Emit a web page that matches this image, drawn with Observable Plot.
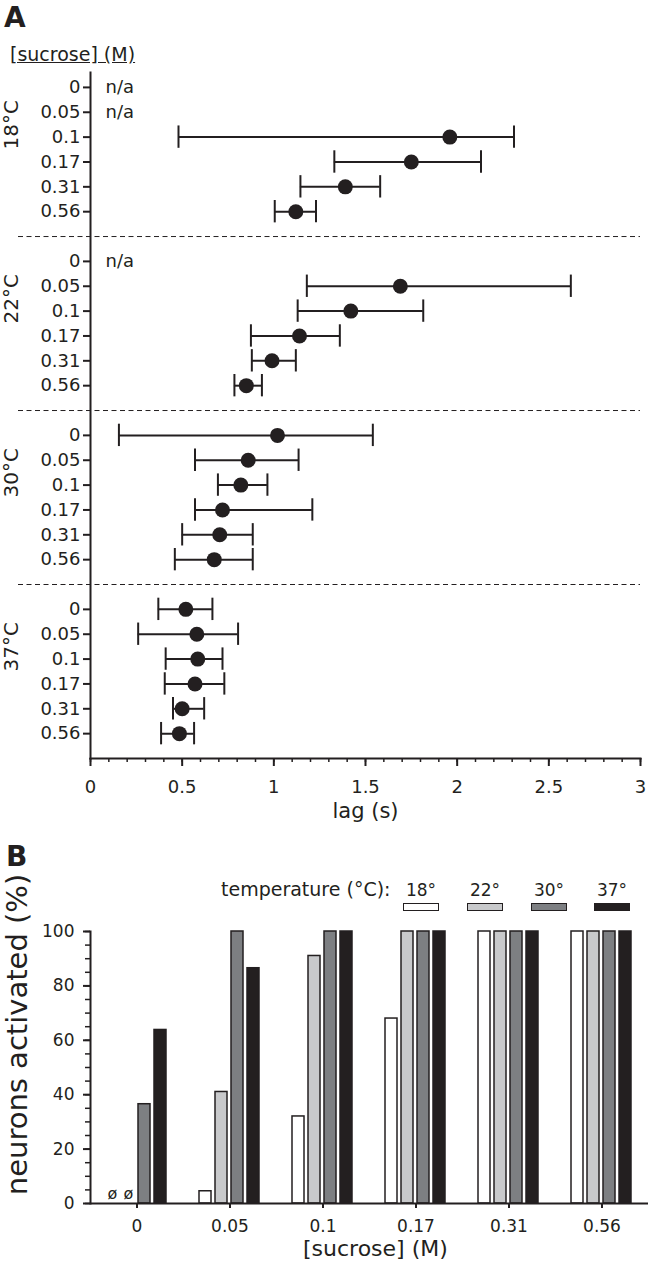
<!DOCTYPE html>
<html><head><meta charset="utf-8">
<script src="https://cdn.jsdelivr.net/npm/d3@7"></script>
<script src="https://cdn.jsdelivr.net/npm/@observablehq/plot@0.6"></script>
<style>
body{margin:0;background:#fff;font-family:"DejaVu Sans",sans-serif;color:#231f20}
#page{position:relative;width:649px;height:1269px;overflow:hidden;background:#fff}
.abs{position:absolute;white-space:nowrap;line-height:1}
svg{position:absolute;left:0}
</style></head><body><div id="page"></div>
<script>
const ink = "#231f20";
// categories
const sucrose = ["0","0.05","0.1","0.17","0.31","0.56"];
const temps = ["18","22","30","37"];
const tempLabels = ["18°C","22°C","30°C","37°C"];
const legendLabels = ["18°","22°","30°","37°"];
const barColors = ["#ffffff","#c8c9cb","#7d7f82","#231f20"];

// Panel A: lag (s), mean and error-bar ends; null = n/a
const lag18Mean = [null, null, 1.96, 1.75, 1.39, 1.12];
const lag18Lo   = [null, null, 0.48, 1.33, 1.145, 1.005];
const lag18Hi   = [null, null, 2.31, 2.13, 1.58, 1.23];
const lag22Mean = [null, 1.69, 1.42, 1.14, 0.99, 0.85];
const lag22Lo   = [null, 1.18, 1.13, 0.875, 0.88, 0.785];
const lag22Hi   = [null, 2.62, 1.815, 1.36, 1.12, 0.935];
const lag30Mean = [1.02, 0.86, 0.82, 0.72, 0.705, 0.675];
const lag30Lo   = [0.155, 0.57, 0.695, 0.57, 0.5, 0.46];
const lag30Hi   = [1.54, 1.135, 0.965, 1.21, 0.885, 0.885];
const lag37Mean = [0.52, 0.58, 0.585, 0.57, 0.50, 0.485];
const lag37Lo   = [0.37, 0.26, 0.41, 0.405, 0.45, 0.385];
const lag37Hi   = [0.665, 0.805, 0.72, 0.73, 0.62, 0.565];
const xMajorTicks = [0, 0.5, 1, 1.5, 2, 2.5, 3];
const xMinorTicks = d3.range(0, 31).map(i => i / 10);

// Panel B: neurons activated (%); null = none (ø)
const pct18 = [null, 4.5, 32, 68, 100, 100];
const pct22 = [null, 41, 91, 100, 100, 100];
const pct30 = [36.5, 100, 100, 100, 100, 100];
const pct37 = [63.8, 86.5, 100, 100, 100, 100];
const yMajorTicks = [0, 20, 40, 60, 80, 100];
const yMinorTicks = d3.range(0, 21).map(i => i * 5);

const lagTables = [[lag18Mean, lag18Lo, lag18Hi],[lag22Mean, lag22Lo, lag22Hi],[lag30Mean, lag30Lo, lag30Hi],[lag37Mean, lag37Lo, lag37Hi]];
const pctTables = [pct18, pct22, pct30, pct37];

const rowsA = [];
temps.forEach((t, g) => sucrose.forEach((c, r) => {
  const [m, lo, hi] = lagTables[g];
  rowsA.push({temp: t, conc: c, pos: g * 7 + r + 1, mean: m[r], lo: lo[r], hi: hi[r]});
}));
const measured = rowsA.filter(d => d.mean != null);
const missing = rowsA.filter(d => d.mean == null);
const dividers = temps.slice(1).map((t, i) => (i + 1) * 7);
const groupCenters = temps.map((t, g) => ({label: tempLabels[g], pos: g * 7 + 3.5}));
const concByPos = new Map(rowsA.map(d => [d.pos, d.conc]));

const page = document.getElementById("page");
function addDiv(text, css, cls = "abs") {
  const d = document.createElement("div");
  d.className = cls; d.textContent = text; d.style.cssText = css; page.appendChild(d); return d;
}

const style = {fontFamily: "DejaVu Sans", color: ink, background: "transparent", overflow: "visible"};

const plotA = Plot.plot({
  width: 649, height: 830, marginLeft: 90, marginRight: 9, marginTop: 72, marginBottom: 72,
  style,
  x: {domain: [0, 3]},
  y: {domain: [0.4, 28], reverse: true},
  marks: [
    Plot.ruleY(dividers, {stroke: ink, strokeWidth: 1, strokeDasharray: "5,3.5", insetLeft: -72}),
    Plot.ruleY(measured, {y: "pos", x1: "lo", x2: "hi", stroke: ink, strokeWidth: 2}),
    Plot.ruleX(measured, {x: "lo", y1: d => d.pos - 0.45, y2: d => d.pos + 0.45, stroke: ink, strokeWidth: 2}),
    Plot.ruleX(measured, {x: "hi", y1: d => d.pos - 0.45, y2: d => d.pos + 0.45, stroke: ink, strokeWidth: 2}),
    Plot.dot(measured, {x: "mean", y: "pos", r: 7.5, fill: ink}),
    Plot.text(missing, {x: 0, y: "pos", text: () => "n/a", textAnchor: "start", dx: 15, fontSize: 18, fill: ink}),
    Plot.text(groupCenters, {y: "pos", frameAnchor: "left", dx: -79, rotate: -90, text: "label", fontSize: 20, fill: ink}),
    Plot.axisY({ticks: rowsA.map(d => d.pos), tickFormat: p => concByPos.get(p), tickSize: 7, tickPadding: 3, fontSize: 18, label: null, strokeWidth: 2}),
    Plot.axisX({ticks: xMajorTicks, tickFormat: d => String(d), tickSize: 8, tickPadding: 14, fontSize: 18, label: null, strokeWidth: 2}),
    Plot.axisX({ticks: xMinorTicks, tickFormat: () => "", tickSize: 4, label: null, strokeWidth: 1.5}),
    Plot.frame({anchor: "left", stroke: ink, strokeWidth: 2}),
    Plot.frame({anchor: "bottom", stroke: ink, strokeWidth: 2}),
    Plot.text(["lag (s)"], {frameAnchor: "bottom", dy: 45, lineAnchor: "top", fontSize: 21, fill: ink})
  ]
});
plotA.style.top = "0px";
page.appendChild(plotA);

const barsB = [];
sucrose.forEach((c, i) => temps.forEach((t, j) => barsB.push({conc: c, temp: t, value: pctTables[j][i]})));

const plotB = Plot.plot({
  width: 649, height: 434, marginLeft: 88, marginRight: 0, marginTop: 96, marginBottom: 66,
  style,
  fx: {domain: sucrose, padding: 0, label: null},
  x: {domain: temps, paddingInner: 0.235, paddingOuter: 0.868, axis: null},
  y: {domain: [0, 100]},
  color: {domain: temps, range: barColors},
  marks: [
    Plot.barY(barsB.filter(d => d.value != null), {fx: "conc", x: "temp", y: "value", fill: "temp", stroke: ink, strokeWidth: 1.5}),
    Plot.text(barsB.filter(d => d.value == null), {fx: "conc", x: "temp", y: 0, text: () => "ø", dy: -10, fontSize: 16, fill: ink}),
    Plot.ruleY([0], {stroke: ink, strokeWidth: 2}),
    Plot.ruleX(sucrose, {fx: d => d, x: null, y1: 0, y2: 0, insetBottom: -5, stroke: ink, strokeWidth: 2}),
    Plot.frame({anchor: "left", facetAnchor: "left", stroke: ink, strokeWidth: 2}),
    Plot.axisY({ticks: yMajorTicks, tickSize: 7, tickPadding: 9, fontSize: 17, label: null, strokeWidth: 2}),
    Plot.axisY({ticks: yMinorTicks, tickFormat: () => "", tickSize: 5, label: null, strokeWidth: 1.5}),
    Plot.axisFx({anchor: "bottom", tickSize: 5, tickPadding: 11, fontSize: 17, label: null, strokeWidth: 2})
  ]
});
plotB.style.top = "835px";
page.appendChild(plotB);

// panel letters and headers
addDiv("A", "left:4px;top:4px;font-size:28px;font-weight:bold;");
addDiv("[sucrose] (M)", "left:10px;top:45px;font-size:19px;text-decoration:underline;");
addDiv("B", "left:6px;top:843px;font-size:28px;font-weight:bold;");
addDiv("[sucrose] (M)", "left:303px;top:1238px;font-size:22px;");
addDiv("neurons activated (%)", "left:-183px;top:1020px;width:400px;text-align:center;font-size:29px;transform:rotate(-90deg);transform-origin:50% 50%;");

// legend
addDiv("temperature (°C):", "left:221px;top:880px;font-size:19px;");
const legendCenters = [421, 485, 549, 612];
temps.forEach((t, i) => {
  addDiv(legendLabels[i], `left:${legendCenters[i] - 30}px;top:882px;width:60px;text-align:center;font-size:17px;`);
  addDiv("", `left:${legendCenters[i] - 18}px;top:903px;width:36px;height:8px;box-sizing:border-box;border:1.5px solid ${ink};background:${barColors[i]};`);
});
</script></body></html>
